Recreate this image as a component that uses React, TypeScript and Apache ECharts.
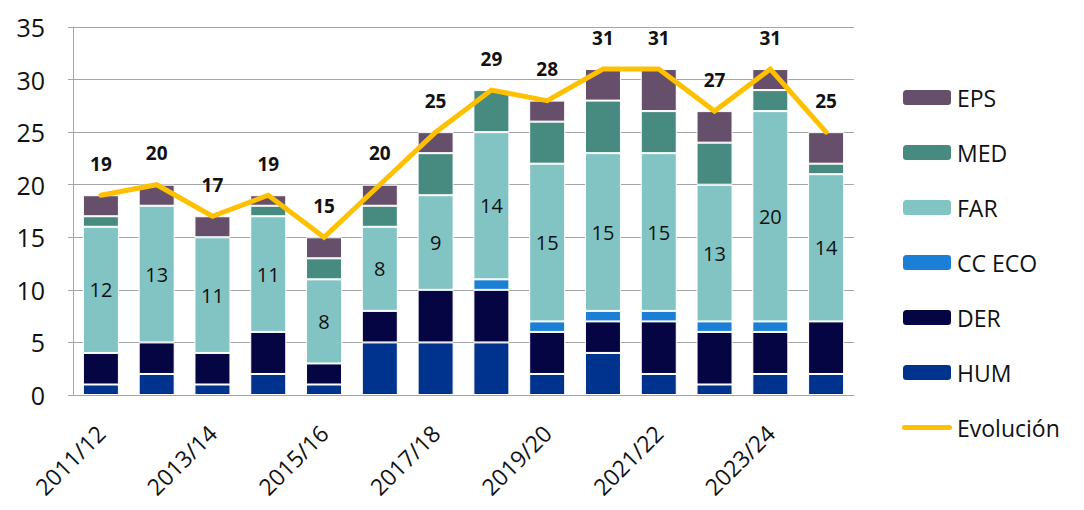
import React, { useEffect, useRef } from "react";
import * as echarts from "echarts";

const categories = [
  "2011/12", "2012/13", "2013/14", "2014/15", "2015/16", "2016/17", "2017/18",
  "2018/19", "2019/20", "2020/21", "2021/22", "2022/23", "2023/24", "2024/25",
];
const HUM = [1, 2, 1, 2, 1, 5, 5, 5, 2, 4, 2, 1, 2, 2];
const DER = [3, 3, 3, 4, 2, 3, 5, 5, 4, 3, 5, 5, 4, 5];
const CC_ECO = [0, 0, 0, 0, 0, 0, 0, 1, 1, 1, 1, 1, 1, 0];
const FAR = [12, 13, 11, 11, 8, 8, 9, 14, 15, 15, 15, 13, 20, 14];
const MED = [1, 0, 0, 1, 2, 2, 4, 4, 4, 5, 4, 4, 2, 1];
const EPS = [2, 2, 2, 1, 2, 2, 2, 0, 2, 3, 4, 3, 2, 3];
const EVOLUCION = [19, 20, 17, 19, 15, 20, 25, 29, 28, 31, 31, 27, 31, 25];
const yTicks = { min: 0, max: 35, interval: 5 };

const FONT = "'Open Sans', 'Liberation Sans', sans-serif";

export default function App() {
  const ref = useRef<HTMLDivElement>(null);
  useEffect(() => {
    if (!ref.current) return;
    const chart = echarts.init(ref.current, null, { renderer: "svg" });
    const bar = (name: string, data: number[], color: string, showLabel = false) => ({
      name,
      type: "bar",
      stack: "total",
      barWidth: 36,
      data: data.map((v) => (v === 0 ? "-" : v)),
      itemStyle: { color, borderColor: "#ffffff", borderWidth: 1 },
      label: showLabel
        ? { show: true, position: "inside", color: "#111", fontSize: 20, fontFamily: FONT }
        : { show: false },
    });
    chart.setOption({
      animation: false,
      textStyle: { fontFamily: FONT },
      grid: {
        left: 73, right: 230, top: 27, bottom: 115,
        containLabel: false, outerBoundsMode: "none",
      },
      legend: {
        orient: "vertical",
        left: 896,
        top: 81,
        itemWidth: 50,
        itemHeight: 17,
        itemGap: 32,
        data: [
          "EPS", "MED", "FAR", "CC ECO", "DER", "HUM",
          { name: "Evolución", icon: "path://M2.5,0H47.5A2.5,2.5,0,0,1,47.5,5H2.5A2.5,2.5,0,0,1,2.5,0Z" },
        ],
        textStyle: { fontSize: 23, color: "#111", fontFamily: FONT, lineHeight: 22 },
      },
      xAxis: {
        type: "category",
        data: categories,
        axisLine: { show: true, lineStyle: { color: "#A6A6A6", width: 1 } },
        axisTick: { show: false },
        axisLabel: {
          interval: 1,
          rotate: 45,
          margin: 34,
          fontSize: 23,
          color: "#111",
          fontFamily: FONT,
        },
      },
      yAxis: {
        type: "value",
        min: yTicks.min,
        max: yTicks.max,
        interval: yTicks.interval,
        axisLine: { show: true, lineStyle: { color: "#A6A6A6", width: 1 } },
        axisTick: { show: true, length: 5, lineStyle: { color: "#A6A6A6" } },
        splitLine: { show: true, lineStyle: { color: "#A6A6A6", width: 1 } },
        axisLabel: { fontSize: 25, color: "#111", margin: 28, fontFamily: FONT },
      },
      series: [
        bar("HUM", HUM, "#00338E"),
        bar("DER", DER, "#050544"),
        bar("CC ECO", CC_ECO, "#1A7FD5"),
        bar("FAR", FAR, "#82C4C3", true),
        bar("MED", MED, "#478A80"),
        bar("EPS", EPS, "#654F6A"),
        {
          name: "Evolución",
          type: "line",
          data: EVOLUCION,
          symbol: "circle",
          symbolSize: 0.1,
          showSymbol: true,
          lineStyle: { color: "#FFC000", width: 5, cap: "round", join: "miter" },
          itemStyle: { color: "#FFC000" },
          label: {
            show: true,
            position: "top",
            distance: 22,
            fontSize: 19,
            fontWeight: "bold",
            color: "#111",
            fontFamily: FONT,
          },
          z: 5,
        },
      ],
    });
    return () => chart.dispose();
  }, []);
  return <div ref={ref} style={{ width: 1084, height: 510, position: "absolute", left: 0, top: 0 }} />;
}
